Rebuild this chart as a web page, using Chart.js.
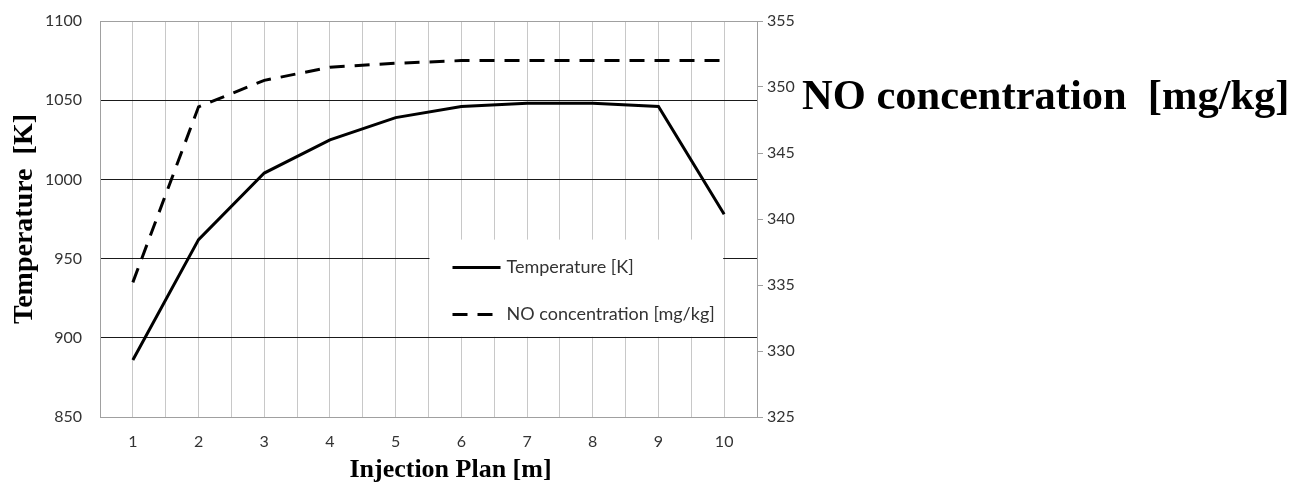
<!DOCTYPE html>
<html>
<head>
<meta charset="utf-8">
<script src="https://cdn.jsdelivr.net/npm/chart.js@4.4.0/dist/chart.umd.min.js"></script>
<style>
  html, body { margin: 0; padding: 0; background: #fff; }
</style>
</head>
<body>
<canvas id="grafico" width="1294" height="483"></canvas>
<script>
// Dados
const planos = [1, 2, 3, 4, 5, 6, 7, 8, 9, 10];
const temperatura = [886, 962, 1004, 1025, 1039, 1046, 1048, 1048, 1046, 978];
const concentracaoNO = [335.2, 348.5, 350.5, 351.5, 351.8, 352, 352, 352, 352, 352];
const ticksTemperatura = [850, 900, 950, 1000, 1050, 1100];
const ticksNO = [325, 330, 335, 340, 345, 350, 355];

const tituloX = 'Injection Plan [m]';
const tituloDireito = 'NO concentration  [mg/kg]';
const fonteTexto = 'Lato';
const fonteTitulo = '"Liberation Serif", "Times New Roman", serif';

// Legenda desenhada dentro da área do gráfico
const legendaInterna = {
    id: 'legendaInterna',
    afterDatasetsDraw(chart) {
        const ctx = chart.ctx;
        const x = chart.scales.x;
        const y = chart.scales.y;
        const esq = x.getPixelForValue(5.5) + 1;
        const dir = x.getPixelForValue(10) - 1;
        const topo = y.getPixelForValue(962);
        const base = y.getPixelForValue(900) - 1;
        ctx.save();
        ctx.fillStyle = '#fff';
        ctx.fillRect(esq, topo, dir - esq, base - topo);
        const linhas = [topo + 28, topo + 75];
        chart.data.datasets.forEach(function (ds, i) {
            ctx.beginPath();
            ctx.strokeStyle = '#000';
            ctx.lineWidth = 3;
            ctx.setLineDash(ds.borderDash || []);
            ctx.moveTo(esq + 23, linhas[i]);
            ctx.lineTo(esq + (ds.borderDash ? 64 : 71), linhas[i]);
            ctx.stroke();
            ctx.setLineDash([]);
            ctx.fillStyle = '#333';
            ctx.font = '18px ' + fonteTexto;
            ctx.textBaseline = 'middle';
            ctx.textAlign = 'left';
            ctx.fillText(ds.label, esq + 77, linhas[i]);
        });
        ctx.restore();
    }
};

// Títulos: eixo x (um pouco deslocado para a direita) e eixo direito na horizontal
const titulos = {
    id: 'titulos',
    afterDraw(chart) {
        const ctx = chart.ctx;
        const area = chart.chartArea;
        const y2 = chart.scales.y2;
        ctx.save();
        ctx.fillStyle = '#000';
        ctx.textBaseline = 'middle';
        ctx.textAlign = 'center';
        ctx.font = 'bold 26px ' + fonteTitulo;
        ctx.fillText(tituloX, (area.left + area.right) / 2 + 22, 470);
        ctx.textAlign = 'left';
        ctx.font = 'bold 42.5px ' + fonteTitulo;
        ctx.fillText(tituloDireito, y2.left + 45, y2.getPixelForValue(349.2));
        ctx.restore();
    }
};

// Sem margem extra por causa dos rótulos
function semPadding(s) {
    s.paddingTop = 0;
    s.paddingBottom = 0;
}

const config = {
    type: 'line',
    data: {
        datasets: [{
            label: 'Temperature [K]',
            data: planos.map(function (p, i) { return { x: p, y: temperatura[i] }; }),
            borderColor: '#000',
            borderWidth: 3,
            pointRadius: 0,
            tension: 0,
            yAxisID: 'y'
        }, {
            label: 'NO concentration [mg/kg]',
            data: planos.map(function (p, i) { return { x: p, y: concentracaoNO[i] }; }),
            borderColor: '#000',
            borderWidth: 3,
            borderDash: [15, 10],
            pointRadius: 0,
            tension: 0,
            yAxisID: 'y2'
        }]
    },
    options: {
        responsive: false,
        animation: false,
        layout: { padding: { top: 21, left: 0, right: 0, bottom: 0 } },
        plugins: {
            legend: { display: false },
            tooltip: { enabled: false }
        },
        scales: {
            x: {
                type: 'linear',
                min: planos[0] - 0.5,
                max: planos[planos.length - 1] + 0.5,
                afterBuildTicks: function (s) {
                    const t = [];
                    planos.forEach(function (p) {
                        t.push({ value: p - 0.5 });
                        t.push({ value: p });
                    });
                    t.push({ value: planos[planos.length - 1] + 0.5 });
                    s.ticks = t;
                },
                afterFit: function (s) { s.height = 66; s.paddingLeft = 0; s.paddingRight = 0; },
                grid: { color: '#c8c8c8', lineWidth: 1, drawTicks: false },
                border: { color: '#a0a0a0' },
                ticks: {
                    padding: 15,
                    autoSkip: false,
                    maxRotation: 0,
                    color: '#333',
                    font: { family: fonteTexto, size: 16 },
                    callback: function (v) { return Number.isInteger(v) ? String(v) : ''; }
                }
            },
            y: {
                position: 'left',
                min: ticksTemperatura[0],
                max: ticksTemperatura[ticksTemperatura.length - 1],
                afterBuildTicks: function (s) {
                    s.ticks = ticksTemperatura.map(function (v) { return { value: v }; });
                },
                afterFit: function (s) { s.width = 100; semPadding(s); },
                grid: {
                    drawTicks: false,
                    color: function (c) {
                        return (c.tick && (c.tick.value === 1100 || c.tick.value === 850)) ? '#a0a0a0' : '#1a1a1a';
                    }
                },
                border: { color: '#a0a0a0' },
                ticks: {
                    padding: 18,
                    color: '#333',
                    font: { family: fonteTexto, size: 16 },
                    callback: function (v) { return String(v); }
                },
                title: {
                    display: true,
                    text: 'Temperature  [K]',
                    color: '#000',
                    padding: { top: 8, bottom: 0 },
                    font: { family: fonteTitulo, size: 28, weight: 'bold', lineHeight: 1.2 }
                }
            },
            y2: {
                position: 'right',
                min: ticksNO[0],
                max: ticksNO[ticksNO.length - 1],
                afterBuildTicks: function (s) {
                    s.ticks = ticksNO.map(function (v) { return { value: v }; });
                },
                afterFit: function (s) { s.width = 1294 - 757; semPadding(s); },
                grid: { drawOnChartArea: false, drawTicks: true, tickLength: 6, color: '#a0a0a0' },
                border: { color: '#a0a0a0' },
                ticks: {
                    padding: 4,
                    color: '#333',
                    font: { family: fonteTexto, size: 16 },
                    callback: function (v) { return String(v); }
                }
            }
        }
    },
    plugins: [legendaInterna, titulos]
};

new Chart(document.getElementById('grafico'), config);
</script>
</body>
</html>
